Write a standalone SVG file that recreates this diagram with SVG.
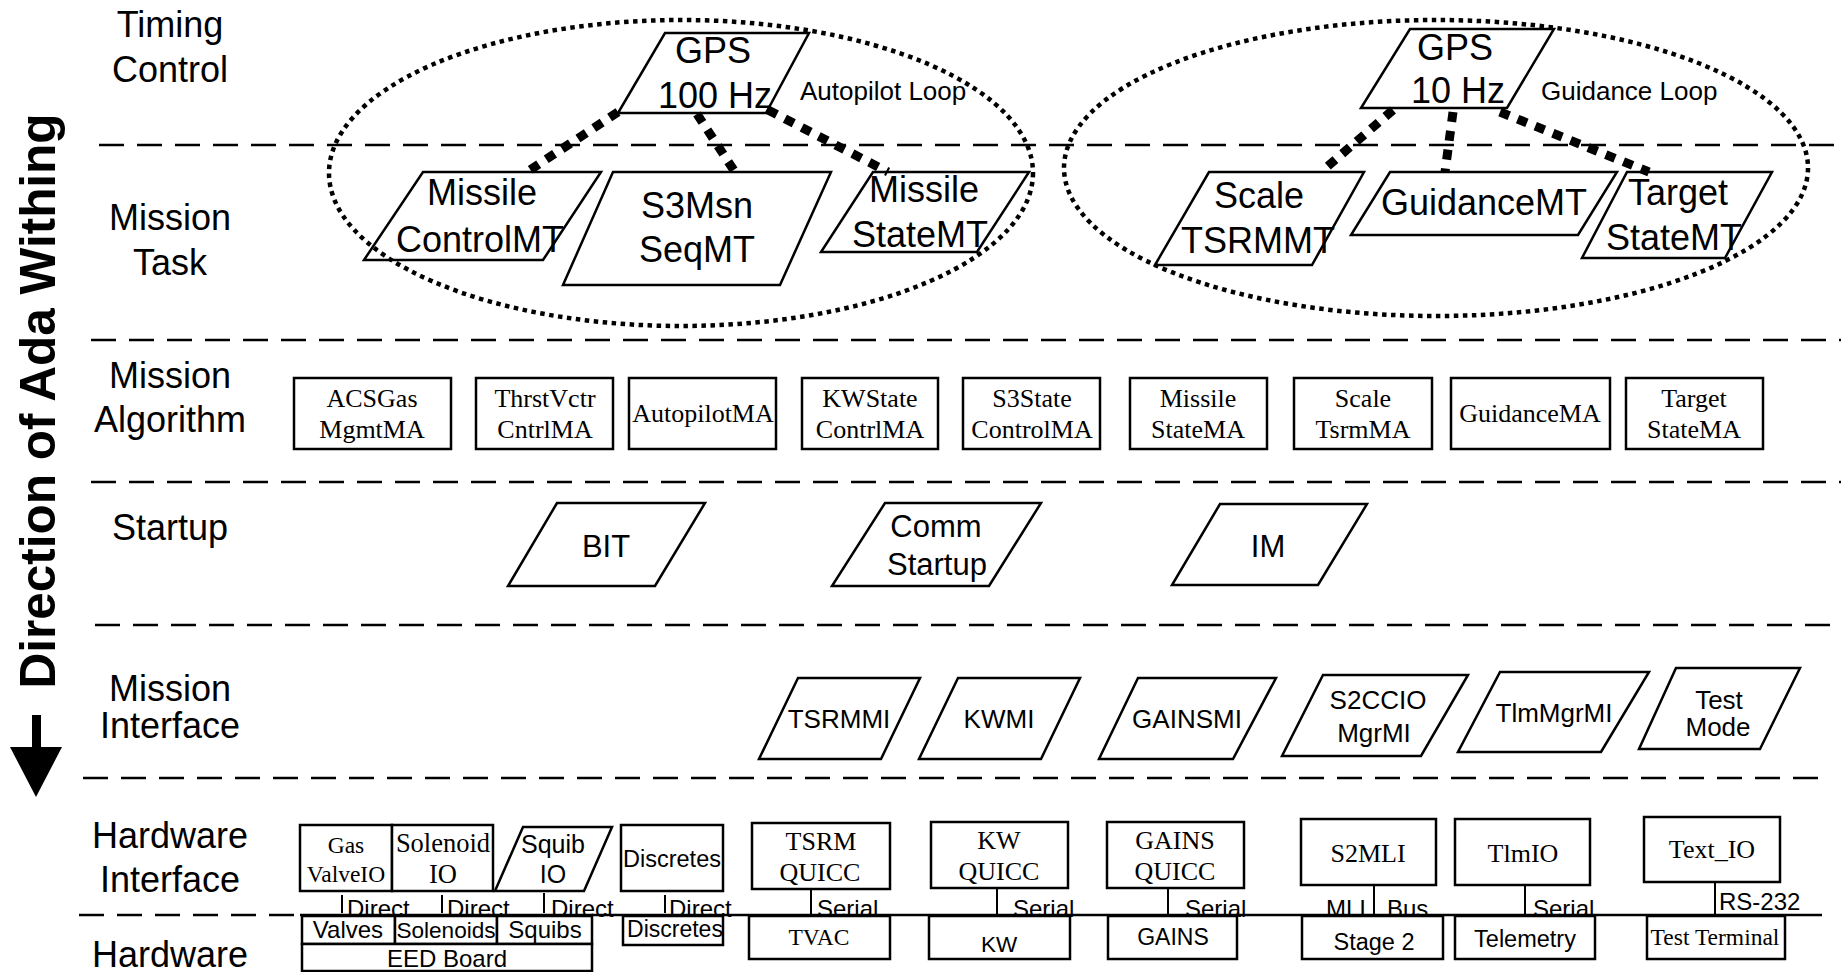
<svg xmlns="http://www.w3.org/2000/svg" width="1841" height="972" viewBox="0 0 1841 972">
  <style>
    .lane { stroke: #000; stroke-width: 2.5; stroke-dasharray: 25 13; fill: none; }
    .rule { stroke: #000; stroke-width: 2.5; fill: none; }
    .node { fill: #fff; stroke: #000; stroke-width: 2.5; }
    .loop { fill: none; stroke: #000; stroke-width: 4.5; stroke-dasharray: 4.5 4.5; }
    .link { fill: none; stroke: #000; stroke-width: 9; stroke-dasharray: 10 9; }
    .wire { stroke: #000; stroke-width: 2; }
    text { fill: #000; }
    .sans { font-family: "Liberation Sans", Arial, sans-serif; }
    .serif { font-family: "Liberation Serif", "Times New Roman", serif; }
    .mid { text-anchor: middle; }
    .end { text-anchor: end; }
    .lbl { font-size: 36px; }
    .big { font-size: 36px; }
    .su { font-size: 31px; }
    .mi { font-size: 26px; }
    .ma { font-size: 26px; }
    .hw { font-size: 24px; }
    .tag { font-size: 24px; }
  </style>

  <!-- layer separators -->
  <g id="lanes">
    <line class="lane" x1="99" y1="145" x2="1841" y2="145"/>
    <line class="lane" x1="91" y1="340" x2="1841" y2="340"/>
    <line class="lane" x1="91" y1="482" x2="1841" y2="482"/>
    <line class="lane" x1="95" y1="625" x2="1841" y2="625"/>
    <line class="lane" x1="83" y1="778" x2="1822" y2="778"/>
    <line class="lane" x1="79" y1="915" x2="300" y2="915"/>
    <line class="rule" x1="300" y1="915" x2="1822" y2="915"/>
  </g>

  <!-- direction arrow -->
  <g id="direction">
    <text class="sans mid" font-weight="bold" font-size="49.5" transform="translate(55,401) rotate(-90)">Direction of Ada Withing</text>
    <rect x="32" y="715" width="9" height="34" fill="#000"/>
    <polygon points="10,747 62,747 36,797" fill="#000"/>
  </g>

  <!-- layer labels -->
  <g id="layer-labels" class="sans mid lbl">
    <text x="170" y="37">Timing</text>
    <text x="170" y="82">Control</text>
    <text x="170" y="230">Mission</text>
    <text x="170" y="275">Task</text>
    <text x="170" y="388">Mission</text>
    <text x="170" y="432">Algorithm</text>
    <text x="170" y="540">Startup</text>
    <text x="170" y="701">Mission</text>
    <text x="170" y="738">Interface</text>
    <text x="170" y="848">Hardware</text>
    <text x="170" y="892">Interface</text>
    <text x="170" y="967">Hardware</text>
  </g>

  <!-- timing control -->
  <g id="gps100">
    <polygon class="node" points="665,33 809,33 766,113 618,113"/>
    <text class="sans mid big" x="713" y="63">GPS</text>
    <text class="sans mid big" x="715" y="108">100 Hz</text>
  </g>
  <g id="gps10">
    <polygon class="node" points="1410,29 1554,29 1507,108 1361,108"/>
    <text class="sans mid big" x="1455" y="60">GPS</text>
    <text class="sans mid big" x="1458" y="103">10 Hz</text>
  </g>

  <!-- mission tasks -->
  <g id="missile-control-mt">
    <polygon class="node" points="423,172 601,172 543,260 364,260"/>
    <text class="sans mid big" x="482" y="205">Missile</text>
    <text class="sans mid big" x="480" y="252">ControlMT</text>
  </g>
  <g id="s3msn-seq-mt">
    <polygon class="node" points="613,172 831,172 780,285 563,285"/>
    <text class="sans mid big" x="697" y="218">S3Msn</text>
    <text class="sans mid big" x="697" y="262">SeqMT</text>
  </g>
  <g id="missile-state-mt">
    <polygon class="node" points="873,172 1029,172 977,252 821,252"/>
    <text class="sans mid big" x="924" y="202">Missile</text>
    <text class="sans mid big" x="920" y="247">StateMT</text>
  </g>
  <g id="scale-tsrm-mt">
    <polygon class="node" points="1209,172 1364,172 1312,265 1155,265"/>
    <text class="sans mid big" x="1259" y="208">Scale</text>
    <text class="sans mid big" x="1258" y="253">TSRMMT</text>
  </g>
  <g id="guidance-mt">
    <polygon class="node" points="1390,172 1617,172 1578,235 1351,235"/>
    <text class="sans mid big" x="1484" y="215">GuidanceMT</text>
  </g>
  <g id="target-state-mt">
    <polygon class="node" points="1627,172 1772,172 1725,258 1582,258"/>
    <text class="sans mid big" x="1678" y="205">Target</text>
    <text class="sans mid big" x="1674" y="250">StateMT</text>
  </g>

  <!-- rate loops and task activation -->
  <g id="loops">
    <ellipse class="loop" cx="681" cy="173" rx="352" ry="153"/>
    <ellipse class="loop" cx="1436" cy="168" rx="372" ry="148"/>
    <text class="sans mi" x="800" y="100">Autopilot Loop</text>
    <text class="sans mi" x="1541" y="100">Guidance Loop</text>
  </g>
  <g id="connectors">
    <line class="link" x1="618" y1="112" x2="527" y2="172"/>
    <line class="link" x1="697" y1="114" x2="735" y2="172"/>
    <line class="link" x1="768" y1="110" x2="888" y2="172"/>
    <line class="link" x1="1393" y1="110" x2="1321" y2="172"/>
    <line class="link" x1="1453" y1="112" x2="1445" y2="172"/>
    <line class="link" x1="1500" y1="112" x2="1649" y2="172"/>
  </g>

  <!-- mission algorithms -->
  <g id="acsgas-mgmt-ma">
    <rect class="node" x="294" y="378" width="157" height="71"/>
    <text class="serif mid ma" x="372" y="407">ACSGas</text>
    <text class="serif mid ma" x="372" y="438">MgmtMA</text>
  </g>
  <g id="thrstvctr-cntrl-ma">
    <rect class="node" x="476" y="378" width="137" height="71"/>
    <text class="serif mid ma" x="545" y="407">ThrstVctr</text>
    <text class="serif mid ma" x="545" y="438">CntrlMA</text>
  </g>
  <g id="autopilot-ma">
    <rect class="node" x="629" y="378" width="147" height="71"/>
    <text class="serif mid ma" x="703" y="422">AutopilotMA</text>
  </g>
  <g id="kwstate-contrl-ma">
    <rect class="node" x="802" y="378" width="136" height="71"/>
    <text class="serif mid ma" x="870" y="407">KWState</text>
    <text class="serif mid ma" x="870" y="438">ContrlMA</text>
  </g>
  <g id="s3state-control-ma">
    <rect class="node" x="963" y="378" width="137" height="71"/>
    <text class="serif mid ma" x="1032" y="407">S3State</text>
    <text class="serif mid ma" x="1032" y="438">ControlMA</text>
  </g>
  <g id="missile-state-ma">
    <rect class="node" x="1130" y="378" width="137" height="71"/>
    <text class="serif mid ma" x="1198" y="407">Missile</text>
    <text class="serif mid ma" x="1198" y="438">StateMA</text>
  </g>
  <g id="scale-tsrm-ma">
    <rect class="node" x="1294" y="378" width="138" height="71"/>
    <text class="serif mid ma" x="1363" y="407">Scale</text>
    <text class="serif mid ma" x="1363" y="438">TsrmMA</text>
  </g>
  <g id="guidance-ma">
    <rect class="node" x="1451" y="378" width="159" height="71"/>
    <text class="serif mid ma" x="1530" y="422">GuidanceMA</text>
  </g>
  <g id="target-state-ma">
    <rect class="node" x="1626" y="378" width="137" height="71"/>
    <text class="serif mid ma" x="1694" y="407">Target</text>
    <text class="serif mid ma" x="1694" y="438">StateMA</text>
  </g>

  <!-- startup -->
  <g id="bit">
    <polygon class="node" points="557,503 705,503 655,586 508,586"/>
    <text class="sans mid su" x="606" y="557">BIT</text>
  </g>
  <g id="comm-startup">
    <polygon class="node" points="885,503 1041,503 989,586 832,586"/>
    <text class="sans mid su" x="936" y="537">Comm</text>
    <text class="sans mid su" x="937" y="575">Startup</text>
  </g>
  <g id="im">
    <polygon class="node" points="1220,504 1367,504 1318,585 1172,585"/>
    <text class="sans mid su" x="1268" y="557">IM</text>
  </g>

  <!-- mission interfaces -->
  <g id="tsrm-mi">
    <polygon class="node" points="798,678 920,678 881,759 759,759"/>
    <text class="sans mid mi" x="839" y="728">TSRMMI</text>
  </g>
  <g id="kw-mi">
    <polygon class="node" points="958,678 1080,678 1041,759 919,759"/>
    <text class="sans mid mi" x="999" y="728">KWMI</text>
  </g>
  <g id="gains-mi">
    <polygon class="node" points="1138,678 1276,678 1233,759 1099,759"/>
    <text class="sans mid mi" x="1187" y="728">GAINSMI</text>
  </g>
  <g id="s2ccio-mgr-mi">
    <polygon class="node" points="1323,675 1468,675 1421,756 1282,756"/>
    <text class="sans mid mi" x="1378" y="709">S2CCIO</text>
    <text class="sans mid mi" x="1374" y="742">MgrMI</text>
  </g>
  <g id="tlm-mgr-mi">
    <polygon class="node" points="1500,672 1649,672 1601,752 1458,752"/>
    <text class="sans mid mi" x="1554" y="722">TlmMgrMI</text>
  </g>
  <g id="test-mode">
    <polygon class="node" points="1676,668 1800,668 1760,749 1639,749"/>
    <text class="sans mid mi" x="1719" y="709">Test</text>
    <text class="sans mid mi" x="1718" y="736">Mode</text>
  </g>

  <!-- links from hardware interfaces down to hardware -->
  <g id="hw-links">
    <line class="wire" x1="342" y1="895" x2="342" y2="913"/>
    <line class="wire" x1="442" y1="895" x2="442" y2="913"/>
    <line class="wire" x1="544" y1="893" x2="544" y2="913"/>
    <line class="wire" x1="665" y1="895" x2="665" y2="913"/>
    <line class="wire" x1="811" y1="889" x2="811" y2="915"/>
    <line class="wire" x1="997" y1="888" x2="997" y2="915"/>
    <line class="wire" x1="1168" y1="888" x2="1168" y2="915"/>
    <line class="wire" x1="1374" y1="885" x2="1374" y2="915"/>
    <line class="wire" x1="1525" y1="885" x2="1525" y2="915"/>
    <line class="wire" x1="1715" y1="882" x2="1715" y2="915"/>
    <g class="sans tag">
      <text x="347" y="917">Direct</text>
      <text x="447" y="917">Direct</text>
      <text x="551" y="917">Direct</text>
      <text x="669" y="917">Direct</text>
      <text x="817" y="917">Serial</text>
      <text x="1013" y="917">Serial</text>
      <text x="1185" y="917">Serial</text>
      <text class="end" x="1366" y="917">MLI</text>
      <text x="1387" y="917">Bus</text>
      <text x="1533" y="917">Serial</text>
      <text x="1719" y="910">RS-232</text>
    </g>
  </g>

  <!-- hardware interfaces -->
  <g id="gas-valve-io">
    <rect class="node" x="300" y="825" width="92" height="66"/>
    <text class="serif mid" font-size="23.5" x="346" y="853">Gas</text>
    <text class="serif mid" font-size="23.5" x="346" y="882">ValveIO</text>
  </g>
  <g id="solenoid-io">
    <rect class="node" x="392" y="825" width="101" height="66"/>
    <text class="serif mid" font-size="26.5" x="443" y="852">Solenoid</text>
    <text class="serif mid" font-size="26.5" x="443" y="883">IO</text>
  </g>
  <g id="squib-io">
    <polygon class="node" points="523,827 612,827 584,891 495,891"/>
    <text class="sans mid" font-size="25" x="553" y="853">Squib</text>
    <text class="sans mid" font-size="25" x="553" y="883">IO</text>
  </g>
  <g id="discretes-io">
    <rect class="node" x="621" y="825" width="102" height="66"/>
    <text class="sans mid" font-size="23.5" x="672" y="867">Discretes</text>
  </g>
  <g id="tsrm-quicc">
    <rect class="node" x="752" y="823" width="138" height="66"/>
    <text class="serif mid ma" x="821" y="850">TSRM</text>
    <text class="serif mid ma" x="820" y="881">QUICC</text>
  </g>
  <g id="kw-quicc">
    <rect class="node" x="931" y="822" width="137" height="66"/>
    <text class="serif mid ma" x="999" y="849">KW</text>
    <text class="serif mid ma" x="999" y="880">QUICC</text>
  </g>
  <g id="gains-quicc">
    <rect class="node" x="1107" y="822" width="137" height="66"/>
    <text class="serif mid ma" x="1175" y="849">GAINS</text>
    <text class="serif mid ma" x="1175" y="880">QUICC</text>
  </g>
  <g id="s2mli">
    <rect class="node" x="1301" y="819" width="135" height="66"/>
    <text class="serif mid ma" x="1368" y="862">S2MLI</text>
  </g>
  <g id="tlm-io">
    <rect class="node" x="1455" y="819" width="135" height="66"/>
    <text class="serif mid ma" x="1523" y="862">TlmIO</text>
  </g>
  <g id="text-io">
    <rect class="node" x="1644" y="817" width="136" height="65"/>
    <text class="serif mid ma" x="1712" y="858">Text_IO</text>
  </g>

  <!-- hardware -->
  <g id="valves">
    <rect class="node" x="302" y="916" width="93" height="28"/>
    <text class="sans mid hw" x="348" y="938">Valves</text>
  </g>
  <g id="solenoids">
    <rect class="node" x="395" y="916" width="102" height="28"/>
    <text class="sans mid" font-size="22.6" x="446" y="938">Solenoids</text>
  </g>
  <g id="squibs">
    <rect class="node" x="497" y="916" width="95" height="28"/>
    <text class="sans mid hw" x="545" y="938">Squibs</text>
  </g>
  <g id="eed-board">
    <rect class="node" x="302" y="944" width="290" height="27"/>
    <text class="sans mid hw" x="447" y="967">EED Board</text>
  </g>
  <g id="discretes">
    <rect class="node" x="623" y="916" width="100" height="29"/>
    <text class="sans mid" font-size="23" x="675" y="937">Discretes</text>
  </g>
  <g id="tvac">
    <rect class="node" x="749" y="916" width="141" height="43"/>
    <text class="serif mid" font-size="23.5" x="819" y="945">TVAC</text>
  </g>
  <g id="kw">
    <rect class="node" x="929" y="916" width="141" height="43"/>
    <text class="sans mid" font-size="22.5" x="999" y="952">KW</text>
  </g>
  <g id="gains">
    <rect class="node" x="1108" y="916" width="129" height="43"/>
    <text class="sans mid" font-size="23" x="1173" y="945">GAINS</text>
  </g>
  <g id="stage-2">
    <rect class="node" x="1302" y="916" width="141" height="43"/>
    <text class="sans mid" font-size="23.5" x="1374" y="950">Stage 2</text>
  </g>
  <g id="telemetry">
    <rect class="node" x="1455" y="916" width="140" height="43"/>
    <text class="sans mid" font-size="23.5" x="1525" y="947">Telemetry</text>
  </g>
  <g id="test-terminal">
    <rect class="node" x="1647" y="916" width="138" height="43"/>
    <text class="serif mid" font-size="23.5" x="1715" y="945">Test Terminal</text>
  </g>
</svg>
